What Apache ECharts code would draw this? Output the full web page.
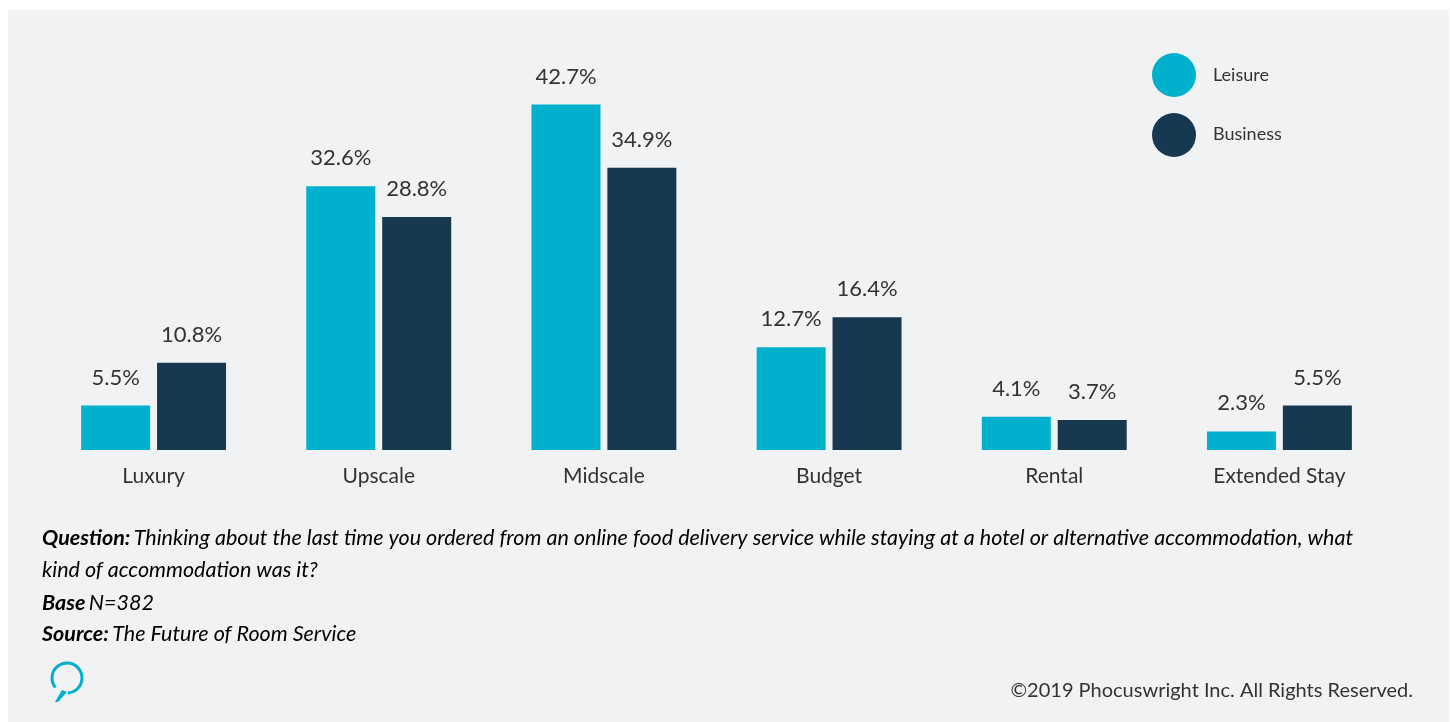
<!DOCTYPE html>
<html>
<head>
<meta charset="utf-8">
<title>Accommodation type for food delivery orders</title>
<script src="https://cdn.jsdelivr.net/npm/echarts@6/dist/echarts.min.js"></script>
<style>
  html, body { margin: 0; padding: 0; background: #ffffff; }
  #chart { width: 1450px; height: 722px; }
</style>
</head>
<body>
<div id="chart"></div>
<script>
// Accommodation categories and share of respondents (%)
const categories = ['Luxury', 'Upscale', 'Midscale', 'Budget', 'Rental', 'Extended Stay'];
const leisure = [5.5, 32.6, 42.7, 12.7, 4.1, 2.3];
const business = [10.8, 28.8, 34.9, 16.4, 3.7, 5.5];
const seriesNames = ['Leisure', 'Business'];

const CYAN = '#00b0cc';
const NAVY = '#163850';
const PANEL = '#f1f2f4';
const TEXT = '#333333';
const FONT = 'Lato, "Open Sans", sans-serif';

const chart = echarts.init(document.getElementById('chart'), null, { renderer: 'canvas' });

const valueLabel = {
  show: true,
  position: 'top',
  distance: 17,
  formatter: p => p.value.toFixed(1) + '%',
  fontFamily: FONT,
  fontSize: 22,
  color: TEXT
};

const noteBold = { fontFamily: FONT, fontSize: 21.5, fontWeight: 'bold', fontStyle: 'italic', color: TEXT };
const noteItalic = { fontFamily: FONT, fontSize: 21.5, fontStyle: 'italic', color: TEXT };

chart.setOption({
  backgroundColor: '#ffffff',
  animation: false,
  grid: { left: 41, right: 58, top: 86, bottom: 272 },
  xAxis: {
    type: 'category',
    data: categories,
    axisLine: { show: false },
    axisTick: { show: false },
    axisLabel: { margin: 16, fontFamily: FONT, fontSize: 21, color: TEXT }
  },
  yAxis: { type: 'value', min: 0, max: 45, show: false, splitLine: { show: false } },
  legend: { show: false },
  series: [
    {
      name: seriesNames[0], type: 'bar', data: leisure, barWidth: 69, barGap: '10%',
      itemStyle: { color: CYAN }, label: valueLabel
    },
    {
      name: seriesNames[1], type: 'bar', data: business, barWidth: 69,
      itemStyle: { color: NAVY }, label: valueLabel
    }
  ],
  graphic: [
    // grey panel behind the whole chart
    { type: 'rect', z: -10, silent: true, shape: { x: 8, y: 10, width: 1441, height: 712 }, style: { fill: PANEL } },
    // legend
    { type: 'circle', shape: { cx: 1174, cy: 75, r: 22 }, style: { fill: CYAN } },
    { type: 'text', x: 1213, y: 75, style: { text: seriesNames[0], font: '18px ' + FONT, fill: TEXT, verticalAlign: 'middle' } },
    { type: 'circle', shape: { cx: 1174, cy: 135, r: 22 }, style: { fill: NAVY } },
    { type: 'text', x: 1213, y: 134, style: { text: seriesNames[1], font: '18px ' + FONT, fill: TEXT, verticalAlign: 'middle' } },
    // footnotes
    {
      type: 'text', x: 42, y: 538,
      style: {
        text: '{b|Question:} {i|Thinking about the last time you ordered from an online food delivery service while staying at a hotel or alternative accommodation, what}',
        verticalAlign: 'middle', rich: { b: noteBold, i: noteItalic }
      }
    },
    {
      type: 'text', x: 42, y: 570,
      style: { text: '{i|kind of accommodation was it?}', verticalAlign: 'middle', rich: { i: noteItalic } }
    },
    {
      type: 'text', x: 42, y: 603,
      style: { text: '{b|Base} {i|N=382}', verticalAlign: 'middle', rich: { b: noteBold, i: noteItalic } }
    },
    {
      type: 'text', x: 42, y: 634,
      style: { text: '{b|Source:} {i|The Future of Room Service}', verticalAlign: 'middle', rich: { b: noteBold, i: noteItalic } }
    },
    // speech-bubble logo: open ring plus a tapered tail
    {
      type: 'arc',
      shape: { cx: 67, cy: 678, r: 15, startAngle: Math.PI * 0.78, endAngle: Math.PI * 2.48, clockwise: true },
      style: { stroke: CYAN, lineWidth: 3, fill: null }
    },
    {
      type: 'polygon',
      shape: { points: [[62, 690], [67, 692], [58, 702], [55, 702]] },
      style: { fill: CYAN }
    },
    // copyright
    {
      type: 'text', x: 1413, y: 691,
      style: { text: '\u00a92019 Phocuswright Inc. All Rights Reserved.', align: 'right', verticalAlign: 'middle', font: '20px ' + FONT, fill: TEXT }
    }
  ]
});
</script>
</body>
</html>
